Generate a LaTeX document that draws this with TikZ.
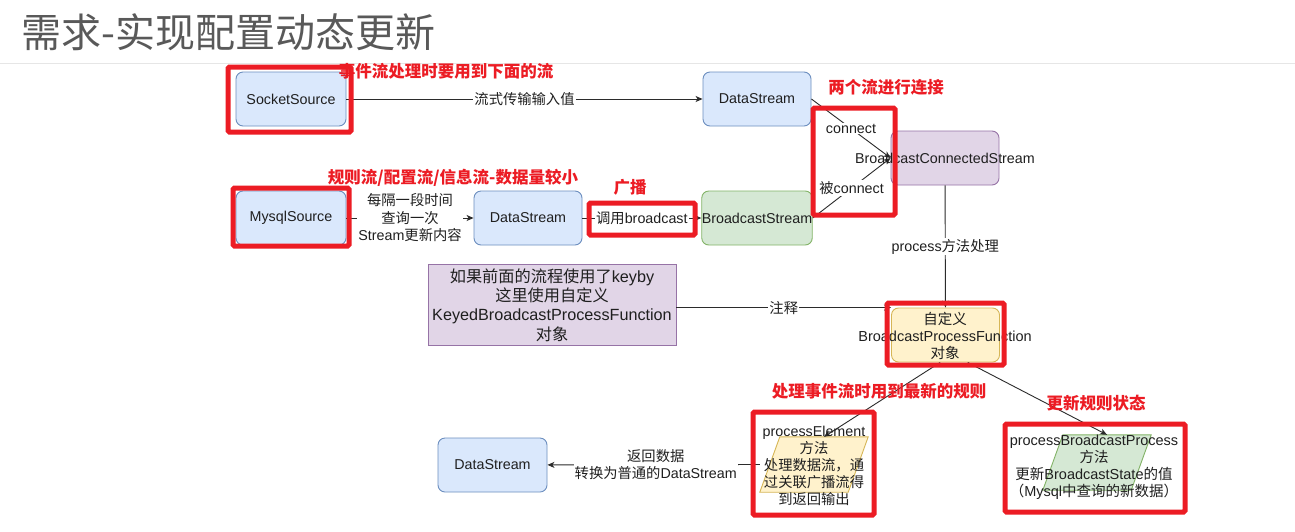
\documentclass[tikz,border=0pt]{standalone}
\usepackage{fontspec}
\setmainfont{Liberation Sans}
\newfontfamily\cjk{Noto Sans CJK SC}
\newcommand\zh[1]{{\cjk #1}}
\usetikzlibrary{arrows.meta,calc}

\definecolor{txt}{HTML}{1F1F1F}
\definecolor{titlegray}{HTML}{595959}
\definecolor{rulegray}{HTML}{E6E6E6}
\definecolor{edgec}{HTML}{2B2B2B}
\definecolor{redc}{HTML}{EC1C24}
\definecolor{blueF}{HTML}{DAE8FC}\definecolor{blueS}{HTML}{6C8EBF}
\definecolor{greenF}{HTML}{D5E8D4}\definecolor{greenS}{HTML}{82B366}
\definecolor{purpF}{HTML}{E1D5E7}\definecolor{purpS}{HTML}{9673A6}
\definecolor{yelF}{HTML}{FFF2CC}\definecolor{yelS}{HTML}{D6B656}

\begin{document}
\begin{tikzpicture}[x=1pt,y=-1pt,
  every node/.style={text=txt, font=\fontsize{14.3}{17.5}\selectfont},
  shapebox/.style={draw, line width=0.9pt, rounded corners=7pt, inner sep=0pt,
    minimum width=108pt, minimum height=54pt},
  bluebox/.style={shapebox, fill=blueF, draw=blueS},
  greenbox/.style={shapebox, fill=greenF, draw=greenS},
  purpbox/.style={shapebox, fill=purpF, draw=purpS},
  yelbox/.style={shapebox, fill=yelF, draw=yelS},
  notebox/.style={draw=purpS, fill=purpF, line width=0.9pt, inner sep=0pt,
    minimum width=248pt, minimum height=81pt, align=center,
    font=\fontsize{16.2}{19.3}\selectfont},
  plainbox/.style={draw=none, inner sep=0pt, minimum width=108pt, minimum height=55pt},
  edge/.style={draw=edgec, line width=0.9pt, -{Stealth[length=7pt,width=6pt,inset=2pt]}},
  elab/.style={fill=white, inner sep=1pt, align=center},
  redframe/.style={draw=redc, line width=5pt, rounded corners=1.5pt},
  redlab/.style={text=redc, inner sep=0pt, font=\cjk\bfseries\fontsize{16.5}{18}\selectfont},
  ttl/.style={text=titlegray, inner sep=0pt, anchor=west, font=\cjk\fontsize{40}{41}\selectfont}
]
% canvas
\fill[white] (0,0) rectangle (1295,531);
\useasboundingbox (0,0) rectangle (1295,531);

% heading
\node[ttl] (title) at (21,32) {需求-实现配置动态更新};
\draw[rulegray, line width=1pt] (0,63) -- (1295,63);

% stream nodes
\node[bluebox, minimum width=110pt] (sock) at (291,99) {SocketSource};
\node[bluebox] (ds1) at (757,99) {DataStream};
\node[purpbox] (bcs) at (945,158) {};
\node[bluebox, minimum width=110pt] (mysql) at (291,218) {MysqlSource};
\node[bluebox] (ds2) at (528,218) {DataStream};
\node[greenbox] (bs) at (757,218) {BroadcastStream};
\node[notebox] (note) at (552,305) {\zh{如果前面的流程使用了}keyby\\\zh{这里使用自定义}\\KeyedBroadcastProcessFunction\\\zh{对象}};
\node[yelbox] (cust) at (945.5,335) {};
\node[bluebox, minimum width=109pt] (ds3) at (492.5,465) {DataStream};

% parallelogram method nodes
\node[plainbox] (pe) at (814,464.5) {};
\node[plainbox] (pbp) at (1097,462.5) {};
\filldraw[fill=yelF, draw=yelS, line width=0.9pt]
  (pe.south west) -- ($(pe.north west)+(20,0)$) -- (pe.north east)
  -- ($(pe.south east)+(-20,0)$) -- cycle;
\filldraw[fill=greenF, draw=greenS, line width=0.9pt]
  (pbp.south west) -- ($(pbp.north west)+(20,0)$) -- (pbp.north east)
  -- ($(pbp.south east)+(-20,0)$) -- cycle;

% connectors
\draw[edge] (sock) -- node[elab] {\zh{流式传输输入值}} (ds1);
\draw[edge] (mysql) -- node[elab] {\zh{每隔一段时间}\\\zh{查询一次}\\Stream\zh{更新内容}} (ds2);
\draw[edge] (ds2) -- node[elab] {\zh{调用}broadcast} (bs);
\draw[edge] (ds1.east) -- node[elab] {connect} (bcs.west);
\draw[edge] (bs.east) -- node[elab] {\zh{被}connect} (bcs.west);
\draw[edge] (bcs) -- node[elab] {process\zh{方法处理}} (cust);
\draw[edge] (note.east |- cust.north west) -- node[elab] {\zh{注释}} (cust.north west);
\draw[edge] (cust.-101) -- ($(pe.north)+(10,0)$);
\draw[edge] (cust.-51) -- ($(pbp.north)+(10,0)$);
\draw[edge] (pe.west) -- node[elab, pos=0.49] {\zh{返回数据}\\\zh{转换为普通的}DataStream} (ds3);

% texts wider than their shapes
\node[align=center, inner sep=0pt] (bcsT) at (945,158) {BroadcastConnectedStream};
\node[align=center, inner sep=0pt, font=\fontsize{14.5}{17}\selectfont] (custT) at (945,336) {\zh{自定义}\\BroadcastProcessFunction\\\zh{对象}};
\node[align=center, inner sep=0pt, font=\fontsize{14.3}{17}\selectfont] (peT) at (814,466) {processElement\\\zh{方法}\\\zh{处理数据流，通}\\\zh{过关联广播流得}\\\zh{到返回输出}};
\node[align=center, inner sep=0pt, font=\fontsize{14.5}{17}\selectfont] (pbpT) at (1094,467) {processBroadcastProcess\\\zh{方法}\\\zh{更新}BroadcastState\zh{的值}\\\zh{（}Mysql\zh{中查询的新数据）}};

% highlight frames
\draw[redframe] (228,67) rectangle (351,132);
\draw[redframe] (233,188) rectangle (349,246);
\draw[redframe] (589,203) rectangle (695,235);
\draw[redframe] (813,108) rectangle (895,215);
\draw[redframe] (887,303) rectangle (1004,365);
\draw[redframe] (753,412) rectangle (874,515);
\draw[redframe] (1005,424) rectangle (1185,512);

% highlight notes
\node[redlab] (n1) at (446,71) {事件流处理时要用到下面的流};
\node[redlab] (n2) at (886,87) {两个流进行连接};
\node[redlab] (n3) at (453,178) {规则流/配置流/信息流-数据量较小};
\node[redlab] (n4) at (630,187) {广播};
\node[redlab] (n5) at (879,391) {处理事件流时用到最新的规则};
\node[redlab] (n6) at (1096,403) {更新规则状态};
\end{tikzpicture}
\end{document}
